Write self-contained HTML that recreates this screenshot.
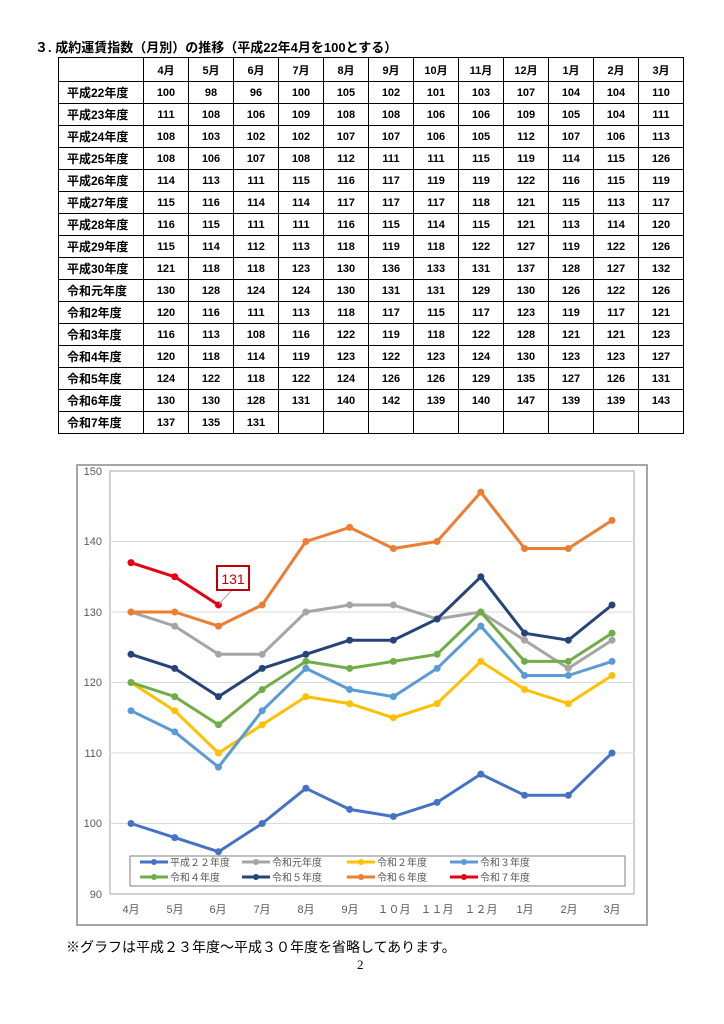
<!DOCTYPE html>
<html><head><meta charset="utf-8">
<style>
body{margin:0;background:#fff;width:724px;height:1024px;position:relative;font-family:"Liberation Sans","Noto Sans CJK JP",sans-serif;}
.title{position:absolute;left:35px;top:37px;font-size:13px;font-weight:bold;color:#000;}
table{position:absolute;left:58px;top:57px;border-collapse:collapse;font-size:11px;font-weight:bold;}
td{border:1px solid #000;height:21px;padding:0;text-align:center;width:44px;}
td.h{width:76px;text-align:left;padding-left:8px;font-size:12px;}
tr.hd td{height:23px;}
.note{position:absolute;left:66px;top:937px;font-size:14px;}
.pg{position:absolute;left:357px;top:957px;font-size:13px;font-family:"Liberation Serif",serif;}
</style></head><body>
<div class="title">３. 成約運賃指数（月別）の推移（平成22年4月を100とする）</div>
<table>
<tr class="hd"><td class="h"></td><td>4月</td><td>5月</td><td>6月</td><td>7月</td><td>8月</td><td>9月</td><td>10月</td><td>11月</td><td>12月</td><td>1月</td><td>2月</td><td>3月</td></tr>
<tr><td class="h">平成22年度</td><td>100</td><td>98</td><td>96</td><td>100</td><td>105</td><td>102</td><td>101</td><td>103</td><td>107</td><td>104</td><td>104</td><td>110</td></tr>
<tr><td class="h">平成23年度</td><td>111</td><td>108</td><td>106</td><td>109</td><td>108</td><td>108</td><td>106</td><td>106</td><td>109</td><td>105</td><td>104</td><td>111</td></tr>
<tr><td class="h">平成24年度</td><td>108</td><td>103</td><td>102</td><td>102</td><td>107</td><td>107</td><td>106</td><td>105</td><td>112</td><td>107</td><td>106</td><td>113</td></tr>
<tr><td class="h">平成25年度</td><td>108</td><td>106</td><td>107</td><td>108</td><td>112</td><td>111</td><td>111</td><td>115</td><td>119</td><td>114</td><td>115</td><td>126</td></tr>
<tr><td class="h">平成26年度</td><td>114</td><td>113</td><td>111</td><td>115</td><td>116</td><td>117</td><td>119</td><td>119</td><td>122</td><td>116</td><td>115</td><td>119</td></tr>
<tr><td class="h">平成27年度</td><td>115</td><td>116</td><td>114</td><td>114</td><td>117</td><td>117</td><td>117</td><td>118</td><td>121</td><td>115</td><td>113</td><td>117</td></tr>
<tr><td class="h">平成28年度</td><td>116</td><td>115</td><td>111</td><td>111</td><td>116</td><td>115</td><td>114</td><td>115</td><td>121</td><td>113</td><td>114</td><td>120</td></tr>
<tr><td class="h">平成29年度</td><td>115</td><td>114</td><td>112</td><td>113</td><td>118</td><td>119</td><td>118</td><td>122</td><td>127</td><td>119</td><td>122</td><td>126</td></tr>
<tr><td class="h">平成30年度</td><td>121</td><td>118</td><td>118</td><td>123</td><td>130</td><td>136</td><td>133</td><td>131</td><td>137</td><td>128</td><td>127</td><td>132</td></tr>
<tr><td class="h">令和元年度</td><td>130</td><td>128</td><td>124</td><td>124</td><td>130</td><td>131</td><td>131</td><td>129</td><td>130</td><td>126</td><td>122</td><td>126</td></tr>
<tr><td class="h">令和2年度</td><td>120</td><td>116</td><td>111</td><td>113</td><td>118</td><td>117</td><td>115</td><td>117</td><td>123</td><td>119</td><td>117</td><td>121</td></tr>
<tr><td class="h">令和3年度</td><td>116</td><td>113</td><td>108</td><td>116</td><td>122</td><td>119</td><td>118</td><td>122</td><td>128</td><td>121</td><td>121</td><td>123</td></tr>
<tr><td class="h">令和4年度</td><td>120</td><td>118</td><td>114</td><td>119</td><td>123</td><td>122</td><td>123</td><td>124</td><td>130</td><td>123</td><td>123</td><td>127</td></tr>
<tr><td class="h">令和5年度</td><td>124</td><td>122</td><td>118</td><td>122</td><td>124</td><td>126</td><td>126</td><td>129</td><td>135</td><td>127</td><td>126</td><td>131</td></tr>
<tr><td class="h">令和6年度</td><td>130</td><td>130</td><td>128</td><td>131</td><td>140</td><td>142</td><td>139</td><td>140</td><td>147</td><td>139</td><td>139</td><td>143</td></tr>
<tr><td class="h">令和7年度</td><td>137</td><td>135</td><td>131</td><td></td><td></td><td></td><td></td><td></td><td></td><td></td><td></td><td></td></tr>
</table>

<svg id="c" width="724" height="1024" style="position:absolute;left:0;top:0" font-family="Liberation Sans, Noto Sans CJK JP, sans-serif">
<rect x="77" y="465" width="570" height="460" fill="none" stroke="#a6a6a6" stroke-width="2"/>
<rect x="110" y="471" width="524" height="423" fill="none" stroke="#a6a6a6" stroke-width="1"/>
<g stroke="#d9d9d9" stroke-width="1">
<line x1="110" x2="634" y1="541.5" y2="541.5"/><line x1="110" x2="634" y1="612" y2="612"/>
<line x1="110" x2="634" y1="682.5" y2="682.5"/><line x1="110" x2="634" y1="753" y2="753"/>
<line x1="110" x2="634" y1="823.5" y2="823.5"/>
</g>
<g font-size="11" fill="#595959" text-anchor="end">
<text x="102" y="475">150</text><text x="102" y="545">140</text><text x="102" y="616">130</text>
<text x="102" y="686">120</text><text x="102" y="757">110</text><text x="102" y="827">100</text><text x="102" y="898">90</text>
</g>
<g font-size="11" fill="#595959" text-anchor="middle">
<text x="131" y="913">4月</text><text x="175" y="913">5月</text><text x="218" y="913">6月</text><text x="262" y="913">7月</text>
<text x="306" y="913">8月</text><text x="350" y="913">9月</text><text x="394" y="913">１０月</text><text x="437" y="913">１１月</text>
<text x="481" y="913">１２月</text><text x="525" y="913">1月</text><text x="569" y="913">2月</text><text x="612" y="913">3月</text>
</g>
<g id="series"></g>
<line x1="219" y1="604" x2="232" y2="590" stroke="#a6a6a6"/>
<rect x="217" y="566" width="32" height="24" fill="#fff" stroke="#c00000" stroke-width="2"/>
<text x="233" y="584" font-size="14" fill="#c00000" text-anchor="middle">131</text>
<rect x="130" y="856" width="495" height="30" fill="#fff" stroke="#7f7f7f"/>
<g id="leg" font-size="10" fill="#595959">
<text x="170" y="866">平成２２年度</text><text x="272" y="866">令和元年度</text><text x="377" y="866">令和２年度</text><text x="480" y="866">令和３年度</text>
<text x="170" y="881">令和４年度</text><text x="272" y="881">令和５年度</text><text x="377" y="881">令和６年度</text><text x="480" y="881">令和７年度</text>
</g>
</svg>
<div class="note">※グラフは平成２３年度～平成３０年度を省略してあります。</div>
<div class="pg">2</div>
<script>
var S=[
["#4472c4",[100,98,96,100,105,102,101,103,107,104,104,110]],
["#a5a5a5",[130,128,124,124,130,131,131,129,130,126,122,126]],
["#ffc000",[120,116,110,114,118,117,115,117,123,119,117,121]],
["#5b9bd5",[116,113,108,116,122,119,118,122,128,121,121,123]],
["#70ad47",[120,118,114,119,123,122,123,124,130,123,123,127]],
["#264478",[124,122,118,122,124,126,126,129,135,127,126,131]],
["#ed7d31",[130,130,128,131,140,142,139,140,147,139,139,143]],
["#e60012",[137,135,131]]];
var g=document.getElementById('series'),h='',lg='';
function X(i){return 131+i*43.73}function Y(v){return 894-(v-90)*7.05}
S.forEach(function(s,k){var p=s[1].map(function(v,i){return X(i).toFixed(1)+','+Y(v).toFixed(1)}).join(' ');
h+='<polyline points="'+p+'" fill="none" stroke="'+s[0]+'" stroke-width="3" stroke-linejoin="round"/>';
s[1].forEach(function(v,i){h+='<circle cx="'+X(i)+'" cy="'+Y(v)+'" r="3.5" fill="'+s[0]+'"/>'});
var lx=[140,242,347,450][k%4],ly=k<4?862:877;
lg+='<line x1="'+lx+'" x2="'+(lx+28)+'" y1="'+ly+'" y2="'+ly+'" stroke="'+s[0]+'" stroke-width="3"/><circle cx="'+(lx+14)+'" cy="'+ly+'" r="3" fill="'+s[0]+'"/>';});
g.innerHTML=h;document.getElementById('leg').insertAdjacentHTML('beforeend',lg);
</script>
</body></html>
